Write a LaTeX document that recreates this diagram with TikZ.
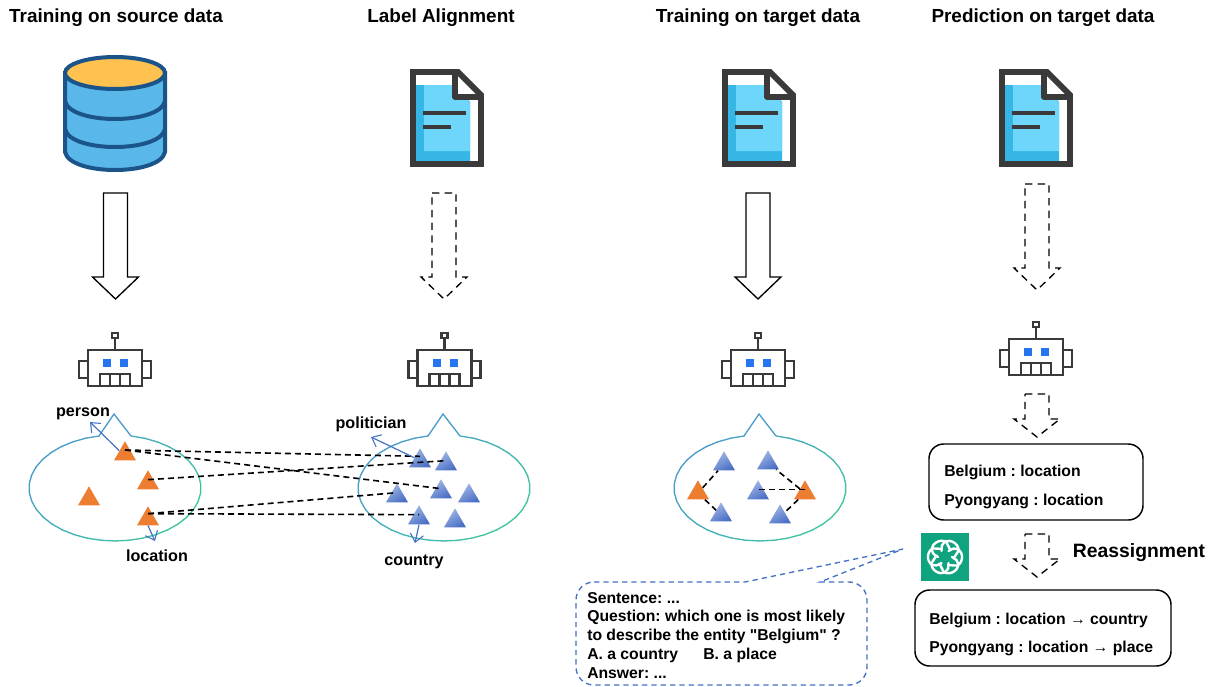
\documentclass[tikz,border=0pt]{standalone}
\usepackage{fontspec}
\setmainfont{Liberation Sans}[Ligatures=TeXOff]
\usetikzlibrary{arrows.meta,shapes.geometric}
\definecolor{orangeT}{HTML}{ED7D31}
\definecolor{blueL}{HTML}{4472C4}
\definecolor{ink}{HTML}{3A3A3A}
\definecolor{dbblue}{HTML}{5AB7EA}
\definecolor{dbline}{HTML}{1B5488}
\definecolor{dbtop}{HTML}{FFC14F}
\definecolor{docL}{HTML}{6FD6FB}
\definecolor{docD}{HTML}{35B6E4}
\definecolor{blobA}{HTML}{4A9CCB}
\definecolor{blobB}{HTML}{3FC6A0}
\definecolor{gptg}{HTML}{10A37F}
\definecolor{triL}{HTML}{A3B8E6}
\definecolor{triD}{HTML}{4A6FC4}
\definecolor{eyeB}{HTML}{2575F0}
\tikzset{
  title/.style={font=\frenchspacing\bfseries\fontsize{14.2}{17}\selectfont,text=black,inner sep=0pt},
  label/.style={font=\frenchspacing\bfseries\fontsize{12.1}{14}\selectfont,text=black,inner sep=0pt},
  boxtext/.style={font=\frenchspacing\bfseries\fontsize{11.8}{14}\selectfont,text=black,inner sep=0pt,anchor=west},
  orangetri/.style={regular polygon,regular polygon sides=3,minimum size=19pt,inner sep=0pt,fill=orangeT},
  bluetri/.style={regular polygon,regular polygon sides=3,minimum size=19pt,inner sep=0pt,left color=triL,right color=triD,shading angle=30},
  link/.style={dash pattern=on 4.5pt off 3pt,line width=1.2pt,black},
  tag/.style={blueL,line width=0.9pt,-{Straight Barb[length=6pt,width=10pt,line width=0.8pt]}},
  infobox/.style={draw=black,line width=1.1pt,rounded corners=11pt,fill=white},
  dashedblock/.style={draw=black,dash pattern=on 5.5pt off 4pt},
  blockarrow/.pic={
    \draw[pic actions,line width=1pt,line join=miter]
      (-12,0) -- (12,0) -- (12,\BlockS) -- (23,\BlockS) -- (0,\BlockH) -- (-23,\BlockS) -- (-12,\BlockS) -- cycle;
  },
  robotpic/.pic={
    \draw[ink,line width=2.2pt,fill=white] (-36,30) rectangle (-27,47);
    \draw[ink,line width=2.2pt,fill=white] (27,30) rectangle (36,47);
    \draw[ink,line width=2.2pt,fill=white] (-27,19) rectangle (27,55);
    \draw[ink,line width=2.2pt] (0,7) -- (0,19);
    \draw[ink,line width=2pt,fill=white] (-3,2) rectangle (3,7);
    \fill[eyeB] (-12,28) rectangle (-4,36);
    \fill[eyeB] (5,28) rectangle (13,36);
    \draw[ink,line width=2pt] (-15,55) -- (-15,43) -- (15,43) -- (15,55);
    \draw[ink,line width=2pt] (-5,43) -- (-5,55) (5,43) -- (5,55);
  },
  docpic/.pic={
    \fill[white] (3,3) -- (48,3) -- (71,27) -- (71,94) -- (3,94) -- cycle;
    \fill[docD] (6,16) -- (44,16) -- (44,28) -- (55,28) -- (60,33) -- (60,93) -- (6,93) -- cycle;
    \fill[docL] (14,16) -- (44,16) -- (46,29) -- (55,29) -- (60,34) -- (60,82) -- (14,82) -- cycle;
    \draw[ink,line width=4.3pt,line join=miter] (3,3) -- (48,3) -- (71,26) -- (71,95) -- (3,95) -- cycle;
    \draw[ink,line width=4.3pt,line join=round] (45,3) -- (45,28) -- (71,28);
    \draw[ink,line width=3.6pt] (13,44) -- (56,44) (13,58) -- (41,58);
  },
  blobpic/.pic={
    \foreach \t in {0,...,35}{
      \pgfmathsetmacro\ta{280.7+\t*9.405}
      \pgfmathsetmacro\tb{280.7+(\t+1)*9.405+0.4}
      \pgfmathsetmacro\w{50+50*cos(\ta-30)}
      \draw[color=blobB!\w!blobA,line width=1pt] (\ta:86 and 53) -- (\tb:86 and 53);
    }
    \draw[blobA,line width=1pt,line join=miter] (-16,-52) -- (-1,-74) -- (16,-52);
  }
}
\newcommand{\BlockH}{106}
\newcommand{\BlockS}{84}
\begin{document}
\begin{tikzpicture}[x=0.75pt,y=-0.75pt]
\path[use as bounding box,fill=white] (0,0) rectangle (1217,686);

% titles
\node[title] (t1) at (116,18) {Training on source data};
\node[title] (t2) at (441,18) {Label Alignment};
\node[title] (t3) at (758,18) {Training on target data};
\node[title] (t4) at (1043,18) {Prediction on target data};

% database
\begin{scope}[shift={(115,0)}]
  \draw[dbline,line width=3pt,fill=dbblue] (-50,73) -- (-50,152) .. controls (-45,176) and (45,176) .. (50,152) -- (50,73) -- cycle;
  \draw[dbline,line width=3pt] (-50,101) .. controls (-45,125) and (45,125) .. (50,101);
  \draw[dbline,line width=3pt] (-50,129) .. controls (-45,153) and (45,153) .. (50,129);
  \draw[dbline,line width=3pt,fill=dbtop] (0,73) ellipse[x radius=50,y radius=16];
\end{scope}

% documents
\pic at (410,69) {docpic};
\pic at (722,69) {docpic};
\pic at (999,69) {docpic};

% block arrows
\pic[draw=black] at (115.5,193) {blockarrow};
\pic[dashedblock] at (444,193) {blockarrow};
\pic[draw=black] at (758,193) {blockarrow};
\pic[dashedblock] at (1037,184) {blockarrow};
\begingroup
\renewcommand{\BlockH}{43}\renewcommand{\BlockS}{25}
\pic[dashedblock] at (1037,394) {blockarrow};
\pic[dashedblock] at (1037,534) {blockarrow};
\endgroup

% robots
\pic at (115,331) {robotpic};
\pic at (444.5,331) {robotpic};
\pic at (758,331) {robotpic};
\pic at (1036,320) {robotpic};

% blobs
\pic at (115,488) {blobpic};
\pic at (444,488) {blobpic};
\pic at (760,488) {blobpic};

% triangles
\node[orangetri] (o1) at (125,454) {};
\node[orangetri] (o2) at (148,483) {};
\node[orangetri] (o3) at (89,499) {};
\node[orangetri] (o4) at (148,519) {};
\node[bluetri] (b1) at (420,461) {};
\node[bluetri] (b2) at (446,464) {};
\node[bluetri] (b3) at (397,496) {};
\node[bluetri] (b4) at (441,492) {};
\node[bluetri] (b5) at (469,496) {};
\node[bluetri] (b6) at (419,518) {};
\node[bluetri] (b7) at (455,521) {};

\node[orangetri] (p1) at (698,493) {};
\node[orangetri] (p2) at (805,493) {};
\node[bluetri] (q1) at (724,464) {};
\node[bluetri] (q2) at (768,463) {};
\node[bluetri] (q3) at (758,493) {};
\node[bluetri] (q4) at (721,515) {};
\node[bluetri] (q5) at (780,517) {};

% alignment links
\draw[link] ([yshift=3pt]o1.center) -- ([yshift=3.5pt]b1.center);
\draw[link] ([yshift=3pt]o1.center) -- ([yshift=2.5pt]b4.center);
\draw[link] ([yshift=2.5pt]o2.center) -- ([yshift=2.5pt]b2.center);
\draw[link] ([yshift=4pt]o4.center) -- ([yshift=2.5pt]b3.center);
\draw[link] ([yshift=4pt]o4.center) -- ([yshift=2.5pt]b6.center);

\draw[link] (p1) -- (q1);
\draw[link] (p1) -- (q4);
\draw[link] (p2) -- (q2);
\draw[link] ([yshift=2.5pt]p2.center) -- ([yshift=2.5pt]q3.center);
\draw[link] (p2) -- (q5);

% labels and their arrows
\node[label] (lperson) at (83,414) {person};
\node[label] (llocation) at (157,556) {location};
\node[label] (lpolitician) at (371,424) {politician};
\node[label] (lcountry) at (414,562) {country};
\coordinate (cperson) at (90,422);
\coordinate (clocation) at (155,541);
\coordinate (cpolitician) at (371,437);
\coordinate (ccountry) at (415,543);
\draw[tag] (o1.side 1) -- (cperson);
\draw[tag] (o4.south) -- (clocation);
\draw[tag] (b1.side 1) -- (cpolitician);
\draw[tag] (b6.south) -- (ccountry);

% prediction boxes
\draw[infobox] (929,444) rectangle (1143,520);
\node[boxtext] (l1) at (944,472) {Belgium : location};
\node[boxtext] (l2) at (944,501) {Pyongyang : location};
\draw[infobox] (915,590) rectangle (1171,666);
\node[boxtext] (l3) at (929,620) {Belgium : location → country};
\node[boxtext] (l4) at (929,648) {Pyongyang : location → place};
\node[font=\bfseries\fontsize{14.5}{17}\selectfont,inner sep=0pt] (reas) at (1139,553) {Reassignment};

% logo
\node[fill=gptg,minimum width=36pt,minimum height=36pt,inner sep=0pt] (gpt) at (945,557) {};
\begin{scope}[shift={(gpt.center)}]
\foreach \k in {0,60,...,300}
  \draw[white,line width=1.8pt,line cap=round,rotate=\k] (0:7) -- (15:12) .. controls (35:21) and (75:20) .. (95:15) -- (125:9);
\end{scope}

% callout
\coordinate (tip) at (903,549);
\draw[blueL,line width=1pt,dash pattern=on 4pt off 3pt]
  (594,582) -- (745,582) -- (tip) -- (820,582) -- (849,582)
  .. controls (859,582) and (867,590) .. (867,600) -- (867,667)
  .. controls (867,677) and (859,685) .. (849,685) -- (594,685)
  .. controls (584,685) and (576,677) .. (576,667) -- (576,600)
  .. controls (576,590) and (584,582) .. (594,582) -- cycle;
\node[boxtext] (s1) at (587,598) {Sentence: ...};
\node[boxtext] (s2) at (587,617) {Question: which one is most likely};
\node[boxtext] (s3) at (587,636) {to describe the entity "Belgium" ?};
\node[boxtext] (s4) at (587,655) {A. a country\hspace{1.6em}B. a place};
\node[boxtext] (s5) at (587,673) {Answer: ...};
\end{tikzpicture}
\end{document}
